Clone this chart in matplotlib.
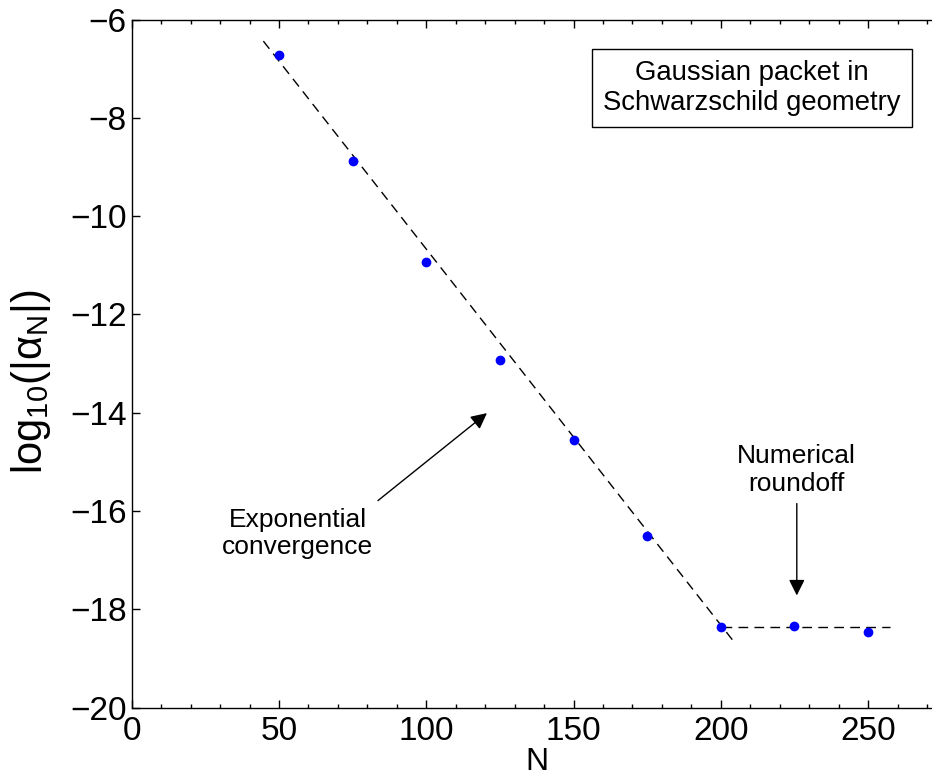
import matplotlib
matplotlib.use("Agg")
import matplotlib.pyplot as plt
from matplotlib.patches import Rectangle
from matplotlib.ticker import MultipleLocator

plt.rcParams['font.family'] = ['Liberation Sans', 'DejaVu Sans']
plt.rcParams['mathtext.fontset'] = 'custom'
plt.rcParams['mathtext.rm'] = 'Liberation Sans'
plt.rcParams['mathtext.default'] = 'regular'

# coefficient decay
n_vals = [50, 75, 100, 125, 150, 175, 200, 225, 250]
log_coef = [-6.72, -8.87, -10.93, -12.93, -14.56, -16.52, -18.36, -18.34, -18.47]

# fitted lines (dashed)
exp_fit_n = [44.7, 203.9]
exp_fit_y = [-6.44, -18.62]
flat_fit_n = [200.3, 257.4]
flat_fit_y = [-18.37, -18.37]

# annotation anchors (data units)
exp_arrow_from = (83.6, -15.79)
exp_arrow_to = (120.6, -14.01)
exp_text_at = (56.4, -16.46)
round_arrow_from = (225.8, -15.85)
round_arrow_to = (225.8, -17.72)
round_text_at = (225.8, -15.17)

W, H = 932, 778
fig = plt.figure(figsize=(W / 100, H / 100), dpi=100)
left, top, bottom = 131.7, 19.5, 707.5
ax = fig.add_axes([left / W, 1 - bottom / H, 1 - left / W, (bottom - top) / H])

ax.plot(exp_fit_n, exp_fit_y, color='k', lw=1.0, dashes=(7, 4.5))
ax.plot(flat_fit_n, flat_fit_y, color='k', lw=1.0, dashes=(7, 4.5))
ax.plot(n_vals, log_coef, 'o', color='#0000ff', ms=6, mec='#0000ff', ls='none', zorder=3)

ax.set_xlim(0, 271.7)
ax.set_ylim(-20, -6)
ax.xaxis.set_major_locator(MultipleLocator(50))
ax.xaxis.set_minor_locator(MultipleLocator(10))
ax.yaxis.set_major_locator(MultipleLocator(2))
ax.tick_params(axis='both', which='both', direction='in', top=True, right=False,
               labelsize=24, width=1.0)
ax.tick_params(axis='both', which='major', length=5.5)
ax.tick_params(axis='x', which='minor', length=2.7)
ax.tick_params(axis='x', pad=6)
ax.tick_params(axis='y', pad=3.5)
ax.spines['right'].set_visible(False)
for s in ['left', 'bottom', 'top']:
    ax.spines[s].set_linewidth(1.0)

# axis labels
fig.text(31 / W, 1 - 382 / H, r'$\mathrm{log}_{10}(|\alpha_{N}|)$', rotation=90,
         ha='center', va='center', fontsize=30)
fig.text(537 / W, 1 - 777 / H, 'N', ha='center', va='bottom', fontsize=23)

# title box
fig.patches.append(Rectangle((592 / W, 1 - 127 / H), (912 - 592) / W, (127 - 49) / H,
                             transform=fig.transFigure, fill=False, ec='k', lw=1.0))
fig.text(752 / W, 1 - 88 / H, 'Gaussian packet in\nSchwarzschild geometry',
         ha='center', va='center', fontsize=19.8, linespacing=1.2)

arrow = dict(arrowstyle='-|>', color='k', lw=1.0, mutation_scale=24, shrinkA=0, shrinkB=0)
ax.annotate('', xy=exp_arrow_to, xytext=exp_arrow_from, arrowprops=arrow)
ax.text(*exp_text_at, 'Exponential\nconvergence', ha='center', va='center',
        fontsize=19, linespacing=1.2)
ax.annotate('', xy=round_arrow_to, xytext=round_arrow_from, arrowprops=arrow)
ax.text(*round_text_at, 'Numerical\nroundoff', ha='center', va='center',
        fontsize=19, linespacing=1.2)

fig.savefig('out.png', dpi=100)
